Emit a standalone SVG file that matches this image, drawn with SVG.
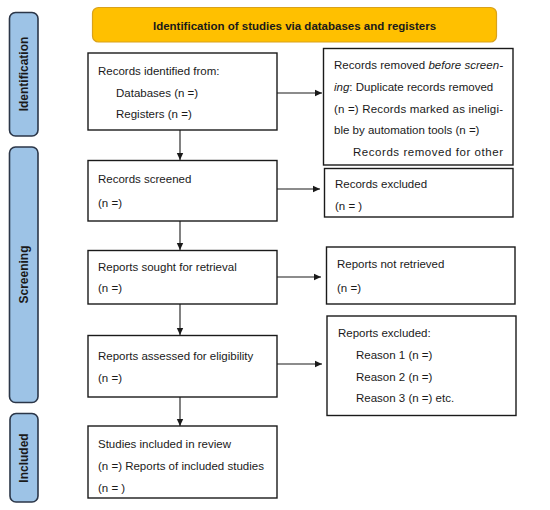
<svg xmlns="http://www.w3.org/2000/svg" width="550" height="510" viewBox="0 0 550 510">
<style>
.bg{fill:#ffffff}
.box{fill:#ffffff;stroke:#1a1a1a;stroke-width:1.4}
.side{fill:#9dc3e6;stroke:#2b3648;stroke-width:1.6}
.banner{fill:#ffc000;stroke:#d9a21b;stroke-width:1.2}
.t{font-family:"Liberation Sans",Arial,sans-serif;font-size:11.5px;fill:#1a1a1a}
.b{font-family:"Liberation Sans",Arial,sans-serif;font-size:11.5px;font-weight:bold;fill:#1a1a1a}
.s{font-family:"Liberation Sans",Arial,sans-serif;font-size:12px;font-weight:bold;fill:#1a1a1a}
.c{stroke:#1a1a1a;stroke-width:1.1;fill:none;marker-end:url(#ah)}
</style>
<defs>
<marker id="ah" markerWidth="8" markerHeight="8" refX="7" refY="4" orient="auto" markerUnits="userSpaceOnUse">
<path d="M0,0.8 L7,4 L0,7.2 Z" fill="#1a1a1a"/>
</marker>
</defs>
<rect class="bg" x="0" y="0" width="550" height="510"/>

<g id="banner">
<rect class="banner" x="92.5" y="7.5" width="404" height="34.5" rx="6"/>
<text class="b" x="294.5" y="30" text-anchor="middle">Identification of studies via databases and registers</text>
</g>

<g id="side-identification">
<rect class="side" x="9.5" y="12.5" width="28.5" height="123.5" rx="6"/>
<text class="s" transform="translate(28,74) rotate(-90)" text-anchor="middle">Identification</text>
</g>
<g id="side-screening">
<rect class="side" x="9.5" y="147" width="28.5" height="255.5" rx="6"/>
<text class="s" transform="translate(28,274.5) rotate(-90)" text-anchor="middle">Screening</text>
</g>
<g id="side-included">
<rect class="side" x="10" y="413.5" width="28" height="88.5" rx="6"/>
<text class="s" transform="translate(28,458) rotate(-90)" text-anchor="middle">Included</text>
</g>

<g id="records-identified">
<rect class="box" x="88" y="53" width="189" height="77"/>
<text class="t" x="98" y="75">Records identified from:</text>
<text class="t" x="116" y="96.5">Databases (n =)</text>
<text class="t" x="116" y="118">Registers (n =)</text>
</g>

<g id="records-removed">
<rect class="box" x="323.5" y="48.5" width="189.5" height="116.5"/>
<text class="t" x="334" y="69" textLength="169" lengthAdjust="spacing">Records removed <tspan font-style="italic">before screen-</tspan></text>
<text class="t" x="334" y="91"><tspan font-style="italic">ing</tspan>: Duplicate records removed</text>
<text class="t" x="334" y="112.5" textLength="169" lengthAdjust="spacing">(n =) Records marked as ineligi-</text>
<text class="t" x="334" y="134">ble by automation tools (n =)</text>
<text class="t" x="353" y="156" textLength="150" lengthAdjust="spacing">Records removed for other</text>
</g>

<g id="records-screened">
<rect class="box" x="88" y="160.5" width="189" height="60.5"/>
<text class="t" x="98" y="183">Records screened</text>
<text class="t" x="98" y="207">(n =)</text>
</g>

<g id="records-excluded">
<rect class="box" x="324.5" y="168.5" width="188.5" height="48.5"/>
<text class="t" x="335" y="188">Records excluded</text>
<text class="t" x="335" y="210">(n = )</text>
</g>

<g id="reports-sought">
<rect class="box" x="88" y="250.5" width="189" height="53.5"/>
<text class="t" x="98" y="271">Reports sought for retrieval</text>
<text class="t" x="98" y="292">(n =)</text>
</g>

<g id="reports-not-retrieved">
<rect class="box" x="326.5" y="247" width="188.5" height="57"/>
<text class="t" x="337" y="268">Reports not retrieved</text>
<text class="t" x="337" y="292">(n =)</text>
</g>

<g id="reports-assessed">
<rect class="box" x="88" y="335.5" width="189" height="61.5"/>
<text class="t" x="98" y="360">Reports assessed for eligibility</text>
<text class="t" x="98" y="382">(n =)</text>
</g>

<g id="reports-excluded">
<rect class="box" x="327" y="316" width="189" height="99.5"/>
<text class="t" x="338" y="337">Reports excluded:</text>
<text class="t" x="356" y="359">Reason 1 (n =)</text>
<text class="t" x="356" y="381">Reason 2 (n =)</text>
<text class="t" x="356" y="402">Reason 3 (n =) etc.</text>
</g>

<g id="studies-included">
<rect class="box" x="88" y="426" width="189" height="72"/>
<text class="t" x="98" y="448">Studies included in review</text>
<text class="t" x="98" y="470">(n =) Reports of included studies</text>
<text class="t" x="98" y="492">(n = )</text>
</g>

<g id="connectors">
<line class="c" x1="180" y1="130" x2="180" y2="160"/>
<line class="c" x1="180" y1="221" x2="180" y2="250"/>
<line class="c" x1="180" y1="304" x2="180" y2="335"/>
<line class="c" x1="180" y1="397" x2="180" y2="426"/>
<line class="c" x1="277" y1="93" x2="322" y2="93"/>
<line class="c" x1="277" y1="189" x2="320" y2="189"/>
<line class="c" x1="277" y1="277" x2="321" y2="277"/>
<line class="c" x1="277" y1="364" x2="322" y2="364"/>
</g>
</svg>
